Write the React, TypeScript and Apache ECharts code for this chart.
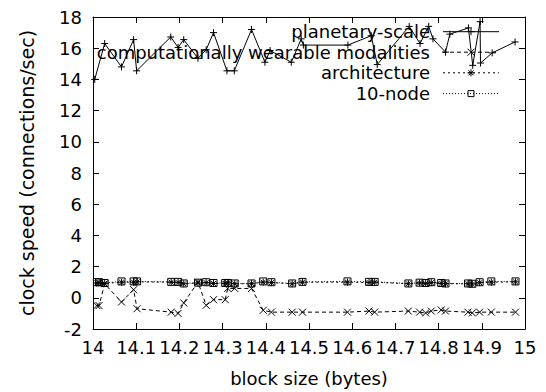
import React, { useEffect, useRef } from "react";
import * as echarts from "echarts";

const X_TICK_LABELS = ["14", "14.1", "14.2", "14.3", "14.4", "14.5", "14.6", "14.7", "14.8", "14.9", "15"];
const Y_TICK_LABELS = ["-2", "0", "2", "4", "6", "8", "10", "12", "14", "16", "18"];

const SERIES_NAMES = ["planetary-scale", "computationally wearable modalities", "architecture", "10-node"];

const planetaryX = [14.004, 14.027, 14.066, 14.094, 14.101, 14.18, 14.197, 14.21, 14.243, 14.262, 14.279, 14.31, 14.327, 14.367, 14.398, 14.41, 14.459, 14.482, 14.487, 14.59, 14.644, 14.658, 14.732, 14.757, 14.777, 14.787, 14.816, 14.826, 14.869, 14.879, 14.896, 14.897, 14.924, 14.977];
const planetaryY = [14.0, 16.3, 14.8, 16.55, 14.55, 16.72, 16.05, 16.55, 15.35, 15.9, 17.0, 14.55, 14.55, 17.2, 15.1, 15.85, 15.1, 16.6, 16.2, 16.2, 16.8, 14.95, 17.4, 16.3, 17.4, 16.6, 15.75, 16.9, 17.3, 14.9, 17.7, 15.05, 15.7, 16.4];

const lowerX = [14.009, 14.014, 14.027, 14.066, 14.094, 14.102, 14.181, 14.197, 14.21, 14.243, 14.262, 14.279, 14.306, 14.312, 14.328, 14.367, 14.394, 14.413, 14.461, 14.485, 14.589, 14.639, 14.652, 14.73, 14.756, 14.77, 14.783, 14.806, 14.816, 14.868, 14.878, 14.895, 14.922, 14.978];
const wearableY = [-0.5, -0.5, 0.9, -0.27, 0.52, -0.7, -0.92, -1.0, -0.33, 1.0, -0.48, -0.12, -0.12, 0.6, 0.6, 0.6, -0.8, -0.92, -0.92, -0.92, -0.92, -0.85, -0.92, -0.85, -0.92, -0.97, -0.85, -0.78, -0.85, -0.92, -0.97, -0.92, -0.92, -0.92];
const architectureY = [0.95, 0.97, 0.92, 1.0, 1.0, 1.02, 1.0, 0.98, 0.9, 0.95, 0.97, 0.92, 0.92, 0.95, 0.9, 0.9, 1.0, 0.97, 0.9, 1.0, 1.0, 0.98, 1.0, 0.9, 0.95, 0.92, 0.97, 0.92, 0.9, 0.9, 0.88, 0.97, 1.0, 1.02];
const tenNodeY = [1.0, 1.0, 0.95, 1.05, 1.05, 1.05, 1.02, 1.02, 0.92, 0.97, 1.0, 0.95, 0.95, 0.95, 0.92, 0.92, 1.05, 1.0, 0.92, 1.02, 1.05, 1.02, 1.02, 0.92, 0.97, 0.95, 1.0, 0.95, 0.92, 0.92, 0.9, 1.0, 1.05, 1.05];

const FONT = "DejaVu Sans";
const PLUS = "path://M0,5L10,5M5,0L5,10";
const CROSS = "path://M0,0L10,10M10,0L0,10";
const STAR = "path://M0,5L10,5M5,0L5,10M1.5,1.5L8.5,8.5M8.5,1.5L1.5,8.5";
const SQUARE = "path://M0,0L10,0L10,10L0,10Z";

function pairs(xs: number[], ys: number[]) {
  return xs.map((x, i) => [x, ys[i]]);
}

export default function App() {
  const ref = useRef<HTMLDivElement>(null);
  useEffect(() => {
    if (!ref.current) return;
    const chart = echarts.init(ref.current, null, { renderer: "svg" });
    const symbols = [PLUS, CROSS, STAR, SQUARE];
    const dashes: any[] = ["solid", [4, 3], [2, 3], [1, 2]];
    const datas = [
      pairs(planetaryX, planetaryY),
      pairs(lowerX, wearableY),
      pairs(lowerX, architectureY),
      pairs(lowerX, tenNodeY),
    ];
    const axisCommon = {
      type: "value" as const,
      axisLine: { show: true, onZero: false, lineStyle: { color: "#000", width: 1 } },
      axisTick: { show: true, inside: true, length: 6, lineStyle: { color: "#000" } },
      splitLine: { show: false },
    };
    const legendY = [31.7, 52.2, 72.8, 93.6];
    const lx0 = 443, lx1 = 499, mx = 471, ms = 3.5;
    const legendGraphics: any[] = [];
    SERIES_NAMES.forEach((name, i) => {
      const y = legendY[i];
      legendGraphics.push({
        type: "text",
        x: 430,
        y,
        style: { text: name, font: `18px "${FONT}"`, fill: "#000", textAlign: "right", textVerticalAlign: "middle" },
      });
      legendGraphics.push({
        type: "line",
        shape: { x1: lx0, y1: y, x2: lx1, y2: y },
        style: { stroke: "#000", lineWidth: 1, lineDash: dashes[i] === "solid" ? null : dashes[i] },
      });
      const st = { stroke: "#000", lineWidth: 1, fill: "none" };
      if (i === 0 || i === 2) {
        legendGraphics.push({ type: "line", shape: { x1: mx - ms, y1: y, x2: mx + ms, y2: y }, style: st });
        legendGraphics.push({ type: "line", shape: { x1: mx, y1: y - ms, x2: mx, y2: y + ms }, style: st });
      }
      if (i === 1 || i === 2) {
        const d = i === 2 ? 2.5 : 3.5;
        legendGraphics.push({ type: "line", shape: { x1: mx - d, y1: y - d, x2: mx + d, y2: y + d }, style: st });
        legendGraphics.push({ type: "line", shape: { x1: mx + d, y1: y - d, x2: mx - d, y2: y + d }, style: st });
      }
      if (i === 3) {
        legendGraphics.push({ type: "rect", shape: { x: mx - 3, y: y - 3, width: 6, height: 6 }, style: st });
      }
    });
    chart.setOption({
      animation: false,
      backgroundColor: "#fff",
      grid: { left: 93, right: 21, top: 17, bottom: 63, containLabel: false },
      xAxis: [
        {
          ...axisCommon,
          position: "bottom",
          min: 14,
          max: 15,
          interval: 0.1,
          name: "block size (bytes)",
          nameLocation: "middle",
          nameGap: 40,
          nameTextStyle: { fontFamily: FONT, fontSize: 18, color: "#000" },
          axisLabel: {
            margin: 9,
            fontFamily: FONT,
            fontSize: 18,
            color: "#000",
            formatter: (_v: number, idx: number) => X_TICK_LABELS[idx] ?? "",
          },
        },
        { ...axisCommon, position: "top", min: 14, max: 15, interval: 0.1, axisLabel: { show: false } },
      ],
      yAxis: [
        {
          ...axisCommon,
          position: "left",
          min: -2,
          max: 18,
          interval: 2,
          name: "clock speed (connections/sec)",
          nameLocation: "middle",
          nameGap: 57,
          nameTextStyle: { fontFamily: FONT, fontSize: 19, color: "#000" },
          axisLabel: {
            margin: 11,
            fontFamily: FONT,
            fontSize: 18,
            color: "#000",
            formatter: (_v: number, idx: number) => Y_TICK_LABELS[idx] ?? "",
          },
        },
        { ...axisCommon, position: "right", min: -2, max: 18, interval: 2, axisLabel: { show: false } },
      ],
      series: SERIES_NAMES.map((name, i) => ({
        name,
        type: "line",
        xAxisIndex: 0,
        yAxisIndex: 0,
        data: datas[i],
        symbol: symbols[i],
        symbolSize: 7,
        showSymbol: true,
        z: 10 - i,
        itemStyle: { color: "rgba(0,0,0,0)", borderColor: "#000", borderWidth: 1 },
        lineStyle: { color: "#000", width: 1, type: dashes[i] },
      })),
      graphic: legendGraphics,
    });
    return () => chart.dispose();
  }, []);
  return <div ref={ref} style={{ position: "absolute", left: 0, top: 0, width: 546, height: 392 }} />;
}
